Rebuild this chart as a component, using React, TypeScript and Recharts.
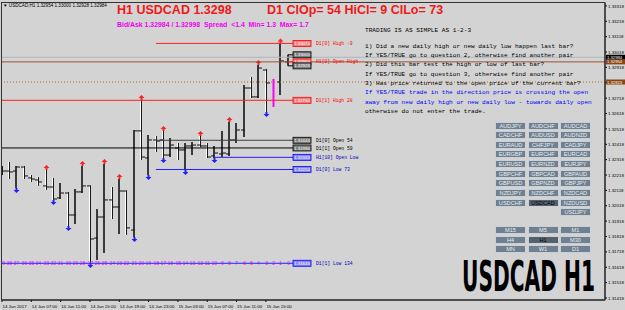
import React, { useLayoutEffect, useRef, useState } from 'react'
import { ComposedChart, Bar, XAxis, YAxis, ReferenceLine, ReferenceDot } from 'recharts'

// H1 bars, oldest first (MT4 shift 39 ... 0)
const barShift = [39, 38, 37, 36, 35, 34, 33, 32, 31, 30, 29, 28, 27, 26, 25, 24, 23, 22, 21, 20, 19, 18, 17, 16, 15, 14, 13, 12, 11, 10, 9, 8, 7, 6, 5, 4, 3, 2, 1, 0]
const opens = [1.32251, 1.32244, 1.32244, 1.3227, 1.32199, 1.32186, 1.32147, 1.3214, 1.32069, 1.32101, 1.31958, 1.32108, 1.32147, 1.31808, 1.31945, 1.32056, 1.3201, 1.32114, 1.3186, 1.32505, 1.32329, 1.32446, 1.32446, 1.32348, 1.32394, 1.32381, 1.32407, 1.32413, 1.32407, 1.32342, 1.32355, 1.32355, 1.32446, 1.32511, 1.32784, 1.32726, 1.32901, 1.32817, 1.32823, 1.32954]
const highs = [1.32277, 1.32303, 1.32277, 1.32277, 1.32218, 1.32205, 1.32251, 1.32199, 1.32166, 1.32108, 1.32127, 1.32277, 1.3215, 1.31997, 1.3229, 1.3214, 1.32192, 1.32118, 1.32511, 1.32706, 1.32478, 1.32472, 1.32505, 1.32459, 1.32426, 1.32426, 1.32433, 1.32472, 1.32426, 1.32407, 1.32505, 1.32563, 1.32557, 1.32804, 1.32856, 1.32934, 1.32908, 1.32843, 1.33074, 1.33]
const lows = [1.32218, 1.32192, 1.32134, 1.32192, 1.32173, 1.32147, 1.32121, 1.32056, 1.32062, 1.31886, 1.31899, 1.32101, 1.31646, 1.31665, 1.31711, 1.31932, 1.31834, 1.31828, 1.31815, 1.32316, 1.32218, 1.32368, 1.32329, 1.32335, 1.32316, 1.32251, 1.32348, 1.324, 1.32329, 1.32329, 1.32335, 1.32342, 1.32426, 1.32465, 1.32719, 1.32719, 1.32628, 1.32661, 1.32739, 1.32928]
const closes = [1.32244, 1.32238, 1.3227, 1.32212, 1.32192, 1.32173, 1.3214, 1.32062, 1.32101, 1.31958, 1.32108, 1.32147, 1.31802, 1.31945, 1.32056, 1.3201, 1.32114, 1.31874, 1.32505, 1.32335, 1.32446, 1.32439, 1.32348, 1.32413, 1.32381, 1.32407, 1.32413, 1.32407, 1.32335, 1.32361, 1.32361, 1.32446, 1.32511, 1.32784, 1.32726, 1.32914, 1.32817, 1.32817, 1.3296, 1.32984]

// arrows marking new highs / lows
const highArrowBars = [33, 28, 25, 23, 20, 17, 12, 8, 4, 1]
const lowArrowBars = [37, 32, 30, 27, 21, 19, 17, 14, 10, 3]
const magentaBars = [2]

const timeLabels = ['14 Jun 2017', '14 Jun 07:00', '14 Jun 11:00', '14 Jun 15:00', '14 Jun 19:00', '14 Jun 23:00', '15 Jun 03:00', '15 Jun 07:00', '15 Jun 11:00', '15 Jun 15:00']
const timeLabelBars = [39, 35, 31, 27, 23, 19, 15, 11, 7, 3]

const priceTicks = [1.31418, 1.31518, 1.31618, 1.31718, 1.31818, 1.31918, 1.32018, 1.32118, 1.32218, 1.32318, 1.32418, 1.32518, 1.32618, 1.32718, 1.32818, 1.32918, 1.33018, 1.33118, 1.33218, 1.33318]

// daily / hourly levels drawn by the indicator
const levelNames = ['D1[0] High  -9', '', 'H1[0] Open High', '', 'D1[1] High  28', 'D1[0] Open  54', 'D1[1] Open  59', 'H1[10] Open Low', 'D1[0] Low  73', 'D1[1] Low  134']
const levelPrices = [1.33074, 1.33, 1.32954, 1.32928, 1.32704, 1.32444, 1.32394, 1.32333, 1.32254, 1.31644]
const levelFromBar = [18, 0, 0, 0, 39, 18, 39, 10, 18, 39]
const levelKinds = ['high', 'bar', 'high', 'bar', 'high', 'open', 'open1', 'low', 'low', 'low']

const bidPrice = 1.32984
const hourOpenPrice = 1.32954
const dottedPrice = 1.32823

const pairRows = [
  ['AUDJPY', 'AUDCHF', 'AUDCAD'],
  ['CADCHF', 'AUDUSD', 'AUDNZD'],
  ['EURAUD', 'CHFJPY', 'CADJPY'],
  ['EURGBP', 'EURCHF', 'EURCAD'],
  ['EURUSD', 'EURNZD', 'EURJPY'],
  ['GBPCHF', 'GBPCAD', 'GBPAUD'],
  ['GBPUSD', 'GBPNZD', 'GBPJPY'],
  ['NZDJPY', 'NZDCHF', 'NZDCAD'],
  ['USDCHF', 'USDCAD', 'NZDUSD'],
  ['', '', 'USDJPY'],
]
const tfRows = [['M15', 'M5', 'M1'], ['H4', 'H1', 'M30'], ['MN', 'W1', 'D1']]

const notes = [
  { t: '1) Did a new daily high or new daily low happen last bar?', c: '#000' },
  { t: 'If YES/TRUE go to question 2, otherwise find another pair', c: '#000' },
  { t: '2) Did this bar test the high or low of last bar?', c: '#000' },
  { t: 'If YES/TRUE go to question 3, otherwise find another pair', c: '#000' },
  { t: '3) Has price returned to the open price of the current bar?', c: '#000' },
  { t: 'If YES/TRUE trade in the direction price is crossing the open', c: '#0000ff' },
  { t: 'away from new daily high or new daily low - towards daily open', c: '#0000ff' },
  { t: 'otherwise do not enter the trade.', c: '#000' },
]

const BG = '#d3d3d3'
const SLOT = 7.33
const X_MAX = 603 / SLOT
const Y_MIN = 1.31405
const Y_MAX = 1.33337
const LAST_K = 39
const BOX_K = 40.93
const LINE_END_K = 39.7

const bars = barShift.map((s, i) => ({
  k: LAST_K - s, shift: s, open: opens[i], high: highs[i], low: lows[i], close: closes[i],
}))

const kindStyle: Record<string, { line: string; fill: string; border: string; text: string; label: string }> = {
  high: { line: '#ff2020', fill: '#f08080', border: '#ff0000', text: '#fff', label: '#ff0000' },
  bar: { line: '#000', fill: '#808080', border: '#000', text: '#fff', label: '#000' },
  open: { line: '#404040', fill: '#808080', border: '#000', text: '#fff', label: '#000' },
  open1: { line: '#000', fill: '#808080', border: '#000', text: '#fff', label: '#000' },
  low: { line: '#2020ff', fill: '#8888f0', border: '#0000ff', text: '#fff', label: '#0000c0' },
}

const tiny = 'Liberation Sans, Arial, sans-serif'
const mono = 'Liberation Mono, DejaVu Sans Mono, monospace'

function OhlcBar(props: any) {
  const { x, y, width, height, payload } = props
  if (!payload) return null
  const top = Math.min(y, y + height)
  const h = Math.abs(height)
  const span = payload.high - payload.low || 1e-9
  const py = (p: number) => top + ((payload.high - p) / span) * h
  const cx = Math.round(x + width / 2) + 0.5
  const isMag = magentaBars.includes(payload.shift)
  const bear = payload.close < payload.open
  return (
    <g>
      {isMag ? (
        <line x1={cx} x2={cx} y1={top} y2={top + h} stroke="#ff00ff" strokeWidth={2} />
      ) : bear ? (
        <>
          <line x1={cx - 1} x2={cx - 1} y1={top} y2={top + h} stroke="#ffffff" strokeWidth={1} />
          <line x1={cx} x2={cx} y1={top} y2={top + h} stroke="#1a1a1a" strokeWidth={1} />
        </>
      ) : (
        <line x1={cx - 0.5} x2={cx - 0.5} y1={top} y2={top + h} stroke="#3a3a3a" strokeWidth={2} />
      )}
      {!isMag && <line x1={cx - 3.5} x2={cx} y1={py(payload.open)} y2={py(payload.open)} stroke="#111" strokeWidth={1} />}
      {!isMag && <line x1={cx} x2={cx + 3.5} y1={py(payload.close)} y2={py(payload.close)} stroke="#111" strokeWidth={1} />}
      {highArrowBars.includes(payload.shift) && (
        <path d={`M${cx} ${top - 5} L${cx + 3} ${top - 2} L${cx + 1} ${top - 2} L${cx + 1} ${top} L${cx - 1} ${top} L${cx - 1} ${top - 2} L${cx - 3} ${top - 2} Z`} fill="#ff2020" />
      )}
      {lowArrowBars.includes(payload.shift) && (
        <path d={`M${cx} ${top + h + 5} L${cx + 3} ${top + h + 2} L${cx + 1} ${top + h + 2} L${cx + 1} ${top + h} L${cx - 1} ${top + h} L${cx - 1} ${top + h + 2} L${cx - 3} ${top + h + 2} Z`} fill="#2020ff" />
      )}
      <text x={cx} y={265} fontSize={4.8} fill="#ff00ff" textAnchor="middle" fontFamily={tiny}>{payload.shift}</text>
    </g>
  )
}

function TimeTick({ x, y, payload }: any) {
  const i = timeLabelBars.findIndex((s) => LAST_K - s === payload.value)
  return (
    <text x={x + 0.5} y={y + 3.5} fontSize={4.4} fill="#000" textAnchor="start" fontFamily={tiny}>
      {i >= 0 ? timeLabels[i] : ''}
    </text>
  )
}

// the dotted-line price tag sits on top of this tick label, as in the terminal
function PriceTick({ x, y, payload }: any) {
  if (Math.abs(payload.value - dottedPrice) < 0.0003) return <g />
  return (
    <text x={x} y={y + 1.6} fontSize={4.4} fill="#000" textAnchor="start" fontFamily={tiny}>
      {payload.value.toFixed(5)}
    </text>
  )
}

function LevelTag({ cx, cy, price, name, kind }: any) {
  const st = kindStyle[kind]
  return (
    <g>
      <rect x={cx - 9} y={cy - 3} width={18} height={6} fill={st.fill} stroke={st.border} strokeWidth={0.8} />
      <text x={cx} y={cy + 1.6} fontSize={4.3} fill={st.text} textAnchor="middle" fontFamily={tiny}>{price.toFixed(5)}</text>
      {name && (
        <text x={cx + 14} y={cy + 1.6} fontSize={4.7} fill={st.label} fontFamily={mono}>{name}</text>
      )}
    </g>
  )
}

function AxisTag({ cx, cy, price, fill }: any) {
  return (
    <g>
      <rect x={cx + 1} y={cy - 2.5} width={19} height={5} fill={fill} />
      <text x={cx + 2} y={cy + 1.5} fontSize={4.2} fill="#fff" fontFamily={tiny}>{price.toFixed(5)}</text>
    </g>
  )
}

function BigLabel() {
  const ref = useRef<SVGTextElement>(null)
  const [sx, setSx] = useState(0.6)
  useLayoutEffect(() => {
    if (ref.current) {
      const w = ref.current.getComputedTextLength()
      if (w > 0) setSx(133 / w)
    }
  }, [])
  return (
    <text ref={ref} transform={`translate(462 291) scale(${sx} 1)`} fontSize={42} fontWeight="bold" fill="#000"
      fontFamily="DejaVu Sans Condensed, Liberation Sans Narrow, sans-serif">USDCAD H1</text>
  )
}

function Btn({ x, y, w, h, label, active }: any) {
  if (!label) return null
  return (
    <div style={{
      position: 'absolute', left: x, top: y, width: w, height: h, boxSizing: 'border-box',
      background: active ? '#56616c' : '#708090', border: '1px solid #c8d0d8',
      color: active ? '#000' : '#e8ecef', fontSize: 5.6, lineHeight: `${h - 2}px`, textAlign: 'center',
      fontFamily: tiny, overflow: 'hidden',
    }}>{label}</div>
  )
}

export default function App() {
  return (
    <div style={{ position: 'absolute', left: 0, top: 0, width: 625, height: 310, background: BG, overflow: 'hidden' }}>
      <ComposedChart width={625} height={310} data={bars} margin={{ top: 3, right: 0, bottom: 0, left: 2 }}>
        <XAxis type="number" dataKey="k" domain={[0, X_MAX]} allowDataOverflow ticks={timeLabelBars.map((s) => LAST_K - s)}
          interval={0} height={10} tickSize={2} tick={<TimeTick />} axisLine={{ stroke: '#000' }} tickLine={{ stroke: '#000' }} />
        <YAxis orientation="right" type="number" domain={[Y_MIN, Y_MAX]} allowDataOverflow ticks={priceTicks} interval={0}
          width={20} tickSize={2} tickMargin={1} tick={<PriceTick />} axisLine={{ stroke: '#000' }} tickLine={{ stroke: '#000' }} />

        <ReferenceLine y={bidPrice} stroke="#aab6c4" strokeWidth={1} />
        <ReferenceLine y={hourOpenPrice} stroke="#a0522d" strokeWidth={1} />
        <ReferenceLine y={dottedPrice} stroke="#b06a30" strokeWidth={1} strokeDasharray="1 2" />
        {levelPrices.map((p, i) => (
          <ReferenceLine key={'l' + i} segment={[{ x: LAST_K - levelFromBar[i], y: p }, { x: LINE_END_K, y: p }]}
            stroke={kindStyle[levelKinds[i]].line} strokeWidth={1} />
        ))}

        <Bar dataKey={(d: any) => [d.low, d.high]} barSize={5} isAnimationActive={false}
          shape={(p: any) => <OhlcBar {...p} />} />

        {levelPrices.map((p, i) => (
          <ReferenceDot key={'t' + i} x={BOX_K} y={p} ifOverflow="visible"
            shape={(s: any) => <LevelTag {...s} price={p} name={levelNames[i]} kind={levelKinds[i]} />} />
        ))}
        <ReferenceDot x={X_MAX} y={bidPrice} ifOverflow="visible" shape={(s: any) => <AxisTag {...s} price={bidPrice} fill="#000" />} />
        <ReferenceDot x={X_MAX} y={hourOpenPrice} ifOverflow="visible" shape={(s: any) => <AxisTag {...s} price={hourOpenPrice} fill="#8b4513" />} />
        <ReferenceDot x={X_MAX} y={dottedPrice} ifOverflow="visible" shape={(s: any) => <AxisTag {...s} price={dottedPrice} fill="#8b4513" />} />
      </ComposedChart>

      <svg width={625} height={310} style={{ position: 'absolute', left: 0, top: 0, pointerEvents: 'none' }}>
        <rect x={1.5} y={2.5} width={603.5} height={297.5} fill="none" stroke="#333" strokeWidth={1} />
        <text x={3} y={7} fontSize={4.6} fill="#000" fontFamily={tiny}>▼ USDCAD,H1 1.32954 1.33000 1.32928 1.32984</text>
        <text x={117} y={13.5} fontSize={12.5} fontWeight="bold" fill="#f01818" fontFamily={tiny}>H1 USDCAD 1.3298</text>
        <text x={267} y={13.5} fontSize={12.5} fontWeight="bold" fill="#f01818" fontFamily={tiny}>D1 ClOp= 54 HiCl= 9 ClLo= 73</text>
        <text x={117} y={26.5} fontSize={6.9} fontWeight="bold" fill="#ee00ee" fontFamily={tiny} xmlSpace="preserve">Bid/Ask 1.32984 / 1.32998  Spread  &lt;1.4  Min= 1.3  Max= 1.7</text>
        <text x={365} y={32} fontSize={6.1} fill="#000" fontFamily={mono}>TRADING IS AS SIMPLE AS 1-2-3</text>
        {notes.map((n, i) => (
          <text key={i} x={365} y={47.5 + i * 9.35} fontSize={6.1} fill={n.c} fontFamily={mono}>{n.t}</text>
        ))}
        <BigLabel />
      </svg>

      {pairRows.map((row, r) => row.map((lab, c) => (
        <Btn key={`p${r}${c}`} x={495 + c * 32.5} y={121.5 + r * 9.65} w={31} h={8} label={lab} active={lab === 'USDCAD'} />
      )))}
      {tfRows.map((row, r) => row.map((lab, c) => (
        <Btn key={`t${r}${c}`} x={495 + c * 32.5} y={226 + r * 9.65} w={31} h={8} label={lab} active={lab === 'H1'} />
      )))}
    </div>
  )
}
